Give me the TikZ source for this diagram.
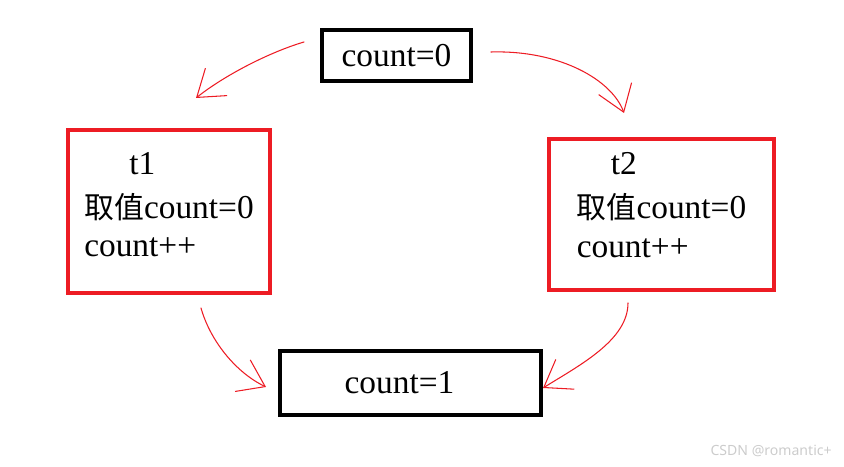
\documentclass[tikz,border=0pt]{standalone}
\usepackage{fontspec}
\setmainfont{Liberation Serif}
\newfontfamily\cjk{Noto Sans CJK SC}
\newfontfamily\wmfont{Noto Sans}
\usetikzlibrary{arrows.meta}
\definecolor{paintred}{RGB}{237,28,36}
\newcommand{\zh}[1]{{\cjk\fontsize{17}{22}\selectfont #1}}

\begin{document}
\begin{tikzpicture}[>={Straight Barb[length=5mm,width=7mm]},line cap=round,
  font=\fontsize{19}{22}\selectfont,
  blackbox/.style={draw=black,line width=2.3pt,inner sep=0pt},
  redbox/.style={draw=paintred,line width=2pt,align=left,inner sep=0pt},
  scrawl/.style={->,paintred,line width=0.6pt}]
\useasboundingbox (0,0) rectangle (16.88,9.32);
% the boxes
\node[blackbox,minimum width=2.98cm,minimum height=1.02cm] (c0) at (7.93,8.21) {count=0};
\node[redbox,minimum width=4.04cm,minimum height=3.26cm] (t1) at (3.38,5.09)
  {\hspace{0.9cm}t1\\[3pt]\zh{取值}count=0\\count++\rule[-8pt]{0pt}{8pt}};
\node[redbox,minimum width=4.5cm,minimum height=3.02cm] (t2) at (13.23,5.03)
  {\hspace{0.68cm}t2\\[3pt]\zh{取值}count=0\\count++\rule[-11pt]{0pt}{11pt}};
\node[blackbox,minimum width=5.22cm,minimum height=1.28cm] (c1) at (8.21,1.66) {count=1\kern0.44cm};
% free ends of the hand drawn arrows
\coordinate (c0-l) at (6.08,8.48);
\coordinate (t1-in) at (3.92,7.36);
\coordinate (c0-r) at (9.82,8.28);
\coordinate (t2-in) at (12.48,7.06);
\coordinate (t1-out) at (4.02,3.16);
\coordinate (c1-l) at (5.32,1.58);
\coordinate (t2-out) at (12.56,3.26);
\coordinate (c1-r) at (10.86,1.56);
\draw[scrawl] (c0-l) .. controls (5.40,8.28) and (4.50,7.82) .. (t1-in);
\draw[scrawl] (c0-r) .. controls (11.20,8.32) and (12.24,7.72) .. (t2-in);
\draw[scrawl] (t1-out) .. controls (4.20,2.52) and (4.70,1.88) .. (c1-l);
\draw[scrawl] (t2-out) .. controls (12.56,2.52) and (11.60,2.02) .. (c1-r);
\node[gray!40,font=\wmfont\fontsize{8}{10}\selectfont,anchor=east,inner sep=0pt] (wm) at (16.64,0.3) {CSDN @romantic+};
\end{tikzpicture}
\end{document}
